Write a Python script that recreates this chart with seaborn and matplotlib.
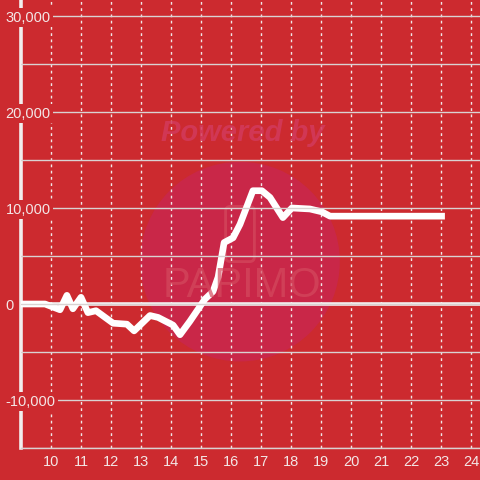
import numpy as np
import pandas as pd
import seaborn as sns
import matplotlib.pyplot as plt
from matplotlib.patches import Circle, FancyBboxPatch

# data (hour of day vs. running value)
hours = [9.0, 9.8, 10.3, 10.53, 10.73, 11.0, 11.23, 11.5, 12.07, 12.53, 12.77,
         13.3, 13.57, 14.07, 14.3, 14.63, 15.13, 15.4, 15.57, 15.77, 16.07,
         16.3, 16.73, 17.03, 17.3, 17.73, 18.03, 18.63, 19.03, 19.3, 20.0,
         21.0, 22.0, 23.13]
values = [0, 0, -600, 900, -500, 700, -900, -700, -2000, -2100, -2800,
          -1200, -1400, -2200, -3200, -1800, 500, 1300, 2800, 6400, 6900,
          8300, 11800, 11800, 11100, 9000, 10000, 9900, 9600, 9150, 9150,
          9150, 9150, 9150]
x_ticks = list(range(10, 25))
y_ticks = [-10000, 0, 10000, 20000, 30000]

bg = '#CC2A2F'
txt = '#F3E6E6'

sns.set_style('white')
plt.rcParams['font.family'] = ['Liberation Sans', 'DejaVu Sans']

df = pd.DataFrame({'hour': hours, 'value': values})

fig = plt.figure(figsize=(4.8, 4.8), dpi=100, facecolor=bg)
ax = fig.add_axes([21 / 480, 32 / 480, 459 / 480, 448 / 480])
ax.set_facecolor(bg)
ax.set_axisbelow(False)

# faint watermark
ax.add_patch(Circle((0.5, 0.455), 0.208, transform=fig.transFigure,
                    facecolor='#C92748', edgecolor='none', zorder=0))
ax.add_patch(FancyBboxPatch((0.47, 0.455), 0.06, 0.115,
                            boxstyle='round,pad=0,rounding_size=0.01',
                            transform=fig.transFigure, facecolor='none',
                            edgecolor='#D44A5E', lw=2, alpha=0.7, zorder=0.1))
fig.text(0.505, 0.722, 'Powered by', ha='center', va='center', fontsize=21,
         fontweight='bold', style='italic', color='#D23A5C', alpha=0.85)
fig.text(0.505, 0.405, 'PAPIMO', ha='center', va='center', fontsize=30,
         color='#D44A5E', alpha=0.7)

sns.lineplot(data=df, x='hour', y='value', ax=ax, color='white', lw=4.8,
             solid_joinstyle='round', solid_capstyle='butt', zorder=5)

ax.set_xlim(9, 9 + 459 / 30)
ax.set_ylim(-15000, 30000 + 16 * 10000 / 96)
ax.set_xticks(x_ticks)
ax.set_yticks(y_ticks)
ax.set_yticks(np.arange(-15000, 30001, 5000), minor=True)
ax.set_yticklabels([f'{v:,}' for v in y_ticks])
ax.set_xlabel('')
ax.set_ylabel('')

ax.grid(False)
ax.yaxis.grid(True, which='both', color='#D9D2D2', lw=1, ls='-')
ax.xaxis.grid(True, which='major', color='#F0E8E8', lw=1, ls=(0, (2, 2.5)))
ax.axhline(0, color='#F5F0F0', lw=2.6, zorder=2.4)
ax.yaxis.set_zorder(6)

for s in ['top', 'right']:
    ax.spines[s].set_visible(False)
ax.spines['left'].set_color('#F2EEEE')
ax.spines['left'].set_linewidth(2.6)
ax.spines['left'].set_zorder(2.3)
ax.spines['bottom'].set_color('#D9D2D2')
ax.spines['bottom'].set_linewidth(1)

ax.tick_params(axis='both', which='both', length=0)
ax.tick_params(axis='y', pad=11, labelsize=10.5, labelcolor=txt)
ax.tick_params(axis='x', pad=5, labelsize=10.5, labelcolor=txt)
for lab in ax.get_yticklabels():
    lab.set_horizontalalignment('left')
    lab.set_bbox(dict(facecolor=bg, edgecolor='none', pad=1.5))

fig.savefig('out.png', dpi=100, facecolor=bg)
